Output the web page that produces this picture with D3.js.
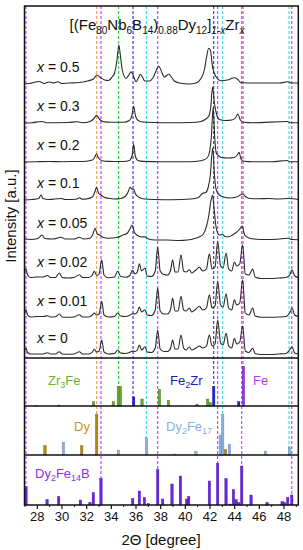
<!DOCTYPE html>
<html><head><meta charset="utf-8">
<script src="https://cdn.jsdelivr.net/npm/d3@7"></script>
<style>body{margin:0;background:#fff;} svg{display:block;font-family:"Liberation Sans",Arial,sans-serif;}</style>
</head><body><svg id="c" width="303" height="550"></svg>
<script>
// ---------- DATA ----------
const sampleLabels = ["0.5","0.3","0.2","0.1","0.05","0.02","0.01","0"];
const sampleOffsets = [274, 235, 196, 158, 118, 79, 40, 3];

const pat05 = [[26.95,0],[27.4,0.5],[28.2,2.5],[28.6,0.5],[29.0,2],[29.4,1],[29.7,2.3],[30.0,0.5],[30.6,1],[31.45,1.5],[32.1,3],[32.6,5],[32.87,9],[33.15,6.5],[33.5,4],[33.8,3.5],[34.1,7],[34.3,11],[34.5,24],[34.65,39],[34.77,29],[34.93,14],[35.23,5.7],[35.46,9],[35.64,12.3],[35.8,9],[36.05,2.3],[36.23,6],[36.4,9.7],[36.56,7],[36.76,3],[37.12,3],[37.45,7],[37.7,14],[37.88,18],[38.06,14],[38.35,7],[38.7,10],[38.9,7],[39.15,3],[39.56,1],[40.37,0],[40.91,1],[41.32,5.7],[41.58,14],[41.77,27.3],[41.93,35.7],[42.07,34],[42.26,16],[42.53,7.3],[42.94,3.3],[43.45,4],[44.02,6.3],[44.26,5],[44.56,1.3],[46.05,1],[47.67,1],[48.34,2.3],[48.64,1],[49.2,1]];
const pat03 = [[26.95,0],[27.6,0.3],[28.4,1.5],[28.8,0.3],[30.5,0.5],[31.3,1.2],[31.7,0.3],[32.3,1.5],[32.6,4],[32.85,7.6],[33.1,3.5],[33.4,1.2],[34,0.7],[35.0,0.7],[35.5,2.5],[35.7,7],[35.85,16.6],[36.0,7],[36.2,2.5],[36.6,1],[37.5,0.5],[39,0.3],[40.5,0.5],[41.3,1.5],[41.7,4],[41.95,7],[42.1,16],[42.25,36],[42.4,20],[42.55,10],[42.8,3.5],[43.3,2.5],[43.8,3],[44.1,5],[44.3,9],[44.5,3],[44.75,0.8],[45.5,0.3],[48.3,1.5],[48.5,0.3],[49.2,0.3]];
const pat02 = [[26.95,0],[28,0.3],[29,0.5],[30,0.3],[31,0.5],[32,0.8],[32.5,2],[32.7,5],[32.85,8.3],[33.0,4],[33.3,1.2],[33.8,0.6],[35.0,0.5],[35.5,1.5],[35.72,6],[35.85,18],[35.98,6],[36.2,1.5],[36.6,0.6],[38,0.3],[40,0.3],[41,0.8],[41.5,2],[41.8,4],[42.0,10],[42.15,25],[42.3,55],[42.42,25],[42.55,9],[42.75,6],[43.0,4.5],[43.5,4],[44.0,4.5],[44.25,7],[44.4,9.6],[44.55,3],[44.8,0.8],[45.5,0.3],[47,0.3],[48.3,1.5],[48.5,0.3],[49.2,0.3]];
const pat01 = [[26.95,0],[27.6,0.5],[28.15,1.5],[28.34,5],[28.5,1.5],[29,0.5],[29.96,1.5],[30.3,0.5],[31.2,0.8],[31.45,2.3],[31.7,0.8],[32.1,1.3],[32.5,3],[32.7,8],[32.85,12.7],[33.0,7],[33.2,5],[33.5,2.5],[33.8,1.7],[34.3,1],[34.8,1.5],[35.2,4],[35.4,8],[35.56,12.7],[35.7,11],[35.85,10.7],[36.0,6],[36.2,3.3],[36.6,1.2],[37.5,0.5],[39,0.3],[40.5,1],[41.1,2.5],[41.45,6.7],[41.7,7.5],[41.9,13],[42.05,23],[42.26,52],[42.4,25],[42.55,10],[42.8,5],[43.1,3.3],[43.6,2],[44.2,3],[44.5,5],[44.7,6],[44.95,3],[45.3,1.5],[46,1.2],[46.8,1.5],[47.5,1],[48.4,1.5],[49.2,0.5]];
const pat005 = [[26.95,1],[27.5,0.5],[28.1,1.5],[28.42,5],[28.65,1.5],[29.3,1],[29.96,2.7],[30.3,1],[31.0,1],[31.45,2.7],[31.8,1],[32.3,1.7],[32.55,6],[32.72,11.7],[32.9,6],[33.1,5],[33.4,2.5],[33.8,1.7],[34.5,2.5],[35.0,5],[35.35,7],[35.55,11],[35.72,15],[35.9,8],[36.1,5],[36.5,3],[36.77,3.3],[37.0,1.2],[37.6,0],[38.5,0],[39.5,-0.5],[40.2,0],[40.8,1.5],[41.2,3.3],[41.5,6],[41.75,13.3],[41.95,25],[42.1,38],[42.25,45],[42.38,30],[42.55,11.7],[42.8,5],[43.05,5.5],[43.3,3.3],[43.6,3.3],[43.85,5],[44.15,7.3],[44.45,11],[44.64,14],[44.85,5],[45.2,2],[45.8,0.8],[46.5,0.5],[47.5,0.8],[48.34,1.7],[48.7,0.5],[49.2,0.3]];
const pat002 = [[26.95,4],[27.05,9],[27.12,10],[27.25,4],[27.5,1.5],[28.0,2],[28.5,2],[28.88,3.5],[29.1,1.5],[29.5,1.5],[29.83,6],[30.05,1.5],[30.5,1],[31.0,1.5],[31.45,4.3],[31.7,1.5],[32.2,1.5],[32.5,4],[32.66,7.7],[32.85,3.5],[33.05,5],[33.26,19.3],[33.45,4],[33.8,1.2],[34.3,2],[34.55,7.7],[34.8,2.5],[35.2,1.8],[35.5,3],[35.77,8.7],[35.95,5],[36.15,7],[36.31,15.3],[36.5,8],[36.77,11],[36.95,3],[37.3,2.5],[37.6,8],[37.8,32],[38.0,8],[38.3,4.5],[38.6,4],[38.85,9],[39.01,19.3],[39.2,7],[39.45,7],[39.69,24.3],[39.9,8],[40.1,7],[40.37,9.3],[40.55,6],[40.9,9],[41.18,11.7],[41.45,8],[41.75,10],[41.99,25.3],[42.2,10],[42.45,12],[42.66,37.7],[42.9,13],[43.1,11],[43.35,26],[43.55,10],[43.8,8],[44.02,17],[44.2,13],[44.45,15],[44.69,34.3],[44.9,5],[45.2,4],[45.5,10],[45.7,2],[46.2,0.5],[47,0.5],[47.6,1],[48.2,1.5],[48.5,4],[48.7,9.3],[48.9,3],[49.2,1.5]];
const pat001 = [[26.95,3],[27.05,7],[27.12,8.3],[27.25,3],[27.5,1],[28.0,1.5],[28.5,1.5],[28.88,2.3],[29.1,1],[29.5,1.2],[29.83,4],[30.05,1],[30.5,0.8],[31.0,1],[31.45,3.3],[31.7,1],[32.2,1],[32.5,3],[32.66,5],[32.85,3],[33.05,4],[33.26,16.7],[33.45,3],[33.8,1],[34.3,1.5],[34.55,5],[34.8,2],[35.2,1.5],[35.5,2.5],[35.77,4.3],[35.95,4],[36.15,6],[36.31,11],[36.5,6],[36.77,8.3],[36.95,3],[37.3,2.5],[37.6,8],[37.8,30],[38.0,7],[38.3,4],[38.6,4],[38.85,9],[39.01,20],[39.2,7],[39.45,7],[39.69,21.7],[39.9,8],[40.1,7],[40.37,10],[40.55,6],[40.9,9],[41.18,11.7],[41.45,8],[41.75,10],[41.99,23.3],[42.2,10],[42.45,12],[42.66,36.7],[42.9,13],[43.1,11],[43.35,24.3],[43.55,10],[43.8,8],[44.02,18.3],[44.2,13],[44.45,15],[44.69,38.3],[44.9,5],[45.2,3],[45.5,10],[45.7,2],[46.2,0.8],[47,0.8],[47.6,1],[48.2,1.5],[48.5,5],[48.7,10],[48.9,3],[49.2,1.5]];
const pat0 = [[26.95,2],[27.05,5.5],[27.12,6.7],[27.25,2.5],[27.5,1],[28.0,1],[28.5,1],[28.88,2.3],[29.1,1],[29.5,1],[29.83,3.3],[30.05,1],[30.5,0.8],[31.0,1],[31.45,3.3],[31.7,1],[32.2,1],[32.5,3],[32.66,5.7],[32.85,3],[33.05,4],[33.26,15],[33.45,3],[33.8,1],[34.3,1.5],[34.55,5],[34.8,2],[35.2,1.5],[35.5,2.5],[35.77,4],[35.95,3.5],[36.15,5],[36.31,10],[36.5,5],[36.77,8.3],[36.95,3],[37.3,2.5],[37.6,7],[37.8,25],[38.0,6],[38.3,3.5],[38.6,3.5],[38.85,7],[39.01,15],[39.2,6],[39.45,6],[39.69,20],[39.9,7],[40.1,5],[40.37,8],[40.55,5],[40.9,7],[41.18,9],[41.45,7],[41.75,9],[41.99,20],[42.2,9],[42.45,11],[42.66,35],[42.9,12],[43.1,10],[43.35,21.7],[43.55,9],[43.8,7],[44.02,16.7],[44.2,11],[44.45,13],[44.69,29],[44.9,4],[45.2,2.5],[45.5,6.7],[45.7,1.5],[46.2,0.5],[47,0.5],[47.6,1],[48.2,1.5],[48.5,5],[48.7,8.3],[48.9,2],[49.2,1]];
const patterns = [pat05, pat03, pat02, pat01, pat005, pat002, pat001, pat0];

// reference bars (2θ, relative intensity)
const zr3fePos = [27.95,29.77,32.6,34.2,34.61,34.77,36.53,37.94,38.67,40.99,41.85,42.07];
const zr3feInt = [1.4,2,9,9,41,41,14.5,35,12,4,14.5,7];
const fe2zrPos = [35.85,42.34,44.37];
const fe2zrInt = [19,41,9];
const fePos = [44.75];
const feInt = [83];
const dyPos = [28.66,31.64,32.85,43.3];
const dyInt = [19,19,83,11];
const dy2fe17Pos = [30.15,34.61,36.9,39.2,40.9,42.88,43.07,43.61,46.53,48.48];
const dy2fe17Int = [26,10,35,2,7,41,83,22,8,16];
const dy2fe14bPos = [27.12,28.83,29.77,31.53,32.31,32.58,33.2,35.77,36.31,36.72,37.04,37.8,38.2,38.96,39.64,40.15,40.31,41.99,42.66,43.34,43.69,43.94,44.15,44.37,44.61,45.37,46.67,47.89,48.07,48.34,48.67];
const dy2fe14bInt = [37,11,17,10,5,25,53,13,28,15,3,71,12,42,58,12,17,48,83,53,2,31,11,5,78,20,5,7,5,15,20];

// reference dashed lines
const refDy2Fe14B = [27.12,33.2,37.8,42.66,44.61,48.67];
const refDy = [32.85];
const refZr3Fe = [34.63];
const refFe2Zr = [35.8,42.34];
const refDy2Fe17 = [36.88,43.07,48.45];
const refFe = [44.72];

const xTicks = [28,30,32,34,36,38,40,42,44,46,48];
const xMinorTicks = [27,29,31,33,35,37,39,41,43,45,47,49];

// ---------- DRAW ----------
const svg = d3.select("#c");
const L = 24.5, R = 298.3, T = 6, MB = 358;
const panelB = [[358,406],[406,455],[455,505]];
const x = d3.scaleLinear().domain([27,49.2]).range([L,R]);
const yMain = d3.scaleLinear().domain([0,352]).range([MB,T]);

svg.append("defs").append("clipPath").attr("id","cp").append("rect")
  .attr("x",L).attr("y",T).attr("width",R-L).attr("height",505-T);

const gLines = svg.append("g").attr("clip-path","url(#cp)");
function refLines(arr,color,bottom){
  gLines.selectAll(null).data(arr).enter().append("line")
    .attr("x1",d=>x(d)).attr("x2",d=>x(d)).attr("y1",T).attr("y2",bottom)
    .attr("stroke",color).attr("stroke-width",1.2).attr("stroke-dasharray","3,2");
}
refLines(refDy2Fe14B,"#b84cf0",505);
refLines(refDy,"#f5a55a",455);
refLines(refZr3Fe,"#3fd23f",406);
refLines(refFe2Zr,"#3a3ae0",406);
refLines(refDy2Fe17,"#3fe0ee",455);
refLines(refFe,"#f03cd8",406);

// curves
const gC = svg.append("g").attr("clip-path","url(#cp)");
patterns.forEach((p,i)=>{
  const off = sampleOffsets[i];
  const ln = d3.line().x(d=>x(d[0])).y(d=>yMain(off+d[1])).curve(d3.curveMonotoneX);
  gC.append("path").attr("d",ln(p)).attr("fill","none").attr("stroke","#2a2a2a").attr("stroke-width",1.1);
});

// sample labels
sampleLabels.forEach((s,i)=>{
  const t = svg.append("text").attr("x",37).attr("y",yMain(sampleOffsets[i]+12)).attr("font-size",14).attr("fill","#111");
  t.append("tspan").attr("font-style","italic").text("x");
  t.append("tspan").text(" = "+s);
});

// bars
function bars(pos,ints,panel,fill,stroke){
  const [top,bot] = panelB[panel];
  const y = d3.scaleLinear().domain([0,100]).range([bot,top]);
  svg.append("g").selectAll("rect").data(pos).enter().append("rect")
    .attr("x",d=>x(d)-1.2).attr("width",2.4)
    .attr("y",(d,i)=>y(ints[i])).attr("height",(d,i)=>bot-y(ints[i]))
    .attr("fill",fill).attr("stroke",stroke).attr("stroke-width",0.4);
}
bars(zr3fePos,zr3feInt,0,"#6aa82a","#3d6e14");
bars(fe2zrPos,fe2zrInt,0,"#2020d8","#10108a");
bars(fePos,feInt,0,"#9a34f0","#6a1fb0");
bars(dyPos,dyInt,1,"#b8860b","#7a5a08");
bars(dy2fe17Pos,dy2fe17Int,1,"#8cb2e4","#5a7aa8");
bars(dy2fe14bPos,dy2fe14bInt,2,"#6a22e6","#4a14a8");

// phase labels
function phaseLabel(px,py,parts,color){
  const t = svg.append("text").attr("x",px).attr("y",py).attr("font-size",13).attr("fill",color);
  parts.forEach(p=>{
    const s = t.append("tspan").text(p[0]);
    if(p[1]) s.attr("font-size",9).attr("dy",3);
    else if(p[2]) s.attr("dy",-3);
  });
}
phaseLabel(48,385,[["Zr"],["3",1],["Fe",0,1]],"#6ab42a");
phaseLabel(170,385,[["Fe"],["2",1],["Zr",0,1]],"#1a1ac8");
phaseLabel(253,385,[["Fe"]],"#b040e8");
phaseLabel(74,431,[["Dy"]],"#c8960a");
phaseLabel(166,431,[["Dy"],["2",1],["Fe",0,1],["17",1]],"#88b0e0");
phaseLabel(35,478,[["Dy"],["2",1],["Fe",0,1],["14",1],["B",0,1]],"#8a30e8");

// frames
svg.append("rect").attr("x",L).attr("y",T).attr("width",R-L).attr("height",505-T)
  .attr("fill","none").attr("stroke","#111").attr("stroke-width",1.5);
[358,406,455].forEach(yy=>svg.append("line").attr("x1",L).attr("x2",R).attr("y1",yy).attr("y2",yy).attr("stroke","#111").attr("stroke-width",1.5));

// x axis
const ax = svg.append("g").attr("transform","translate(0,505)")
  .call(d3.axisBottom(x).tickValues(xTicks).tickSize(4).tickPadding(3).tickFormat(d3.format("d")));
ax.select(".domain").remove();
ax.selectAll("text").attr("font-size",13).attr("font-family","Liberation Sans, Arial, sans-serif").attr("fill","#111");
ax.selectAll("line").attr("stroke","#111").attr("stroke-width",1.2);
const axm = svg.append("g").attr("transform","translate(0,505)")
  .call(d3.axisBottom(x).tickValues(xMinorTicks.filter(v=>v>=27&&v<=49)).tickSize(2).tickFormat(""));
axm.select(".domain").remove();
axm.selectAll("line").attr("stroke","#111").attr("stroke-width",1);

// axis titles
svg.append("text").attr("x",161).attr("y",545).attr("text-anchor","middle").attr("font-size",15).attr("fill","#111").text("2Θ [degree]");
svg.append("text").attr("transform","translate(16,216) rotate(-90)").attr("text-anchor","middle").attr("font-size",15).attr("fill","#111").text("Intensity [a.u.]");

// title
const tt = svg.append("text").attr("x",157).attr("y",30).attr("text-anchor","middle").attr("font-size",15).attr("fill","#111");
const tparts = [["[(Fe"],["80",1],["Nb",0],["6",1],["B",0],["14",1],[")",0],["0.88",1],["Dy",0],["12",1],["]",0],["1-x",1,1],["Zr",0],["x",1,1]];
let sub=false;
tparts.forEach(p=>{
  const s = tt.append("tspan").text(p[0]);
  if(p[1]){ s.attr("font-size",10); if(!sub) s.attr("dy",4); sub=true; if(p[2]) s.attr("font-style","italic"); }
  else { if(sub) s.attr("dy",-4); sub=false; }
});
</script></body></html>
